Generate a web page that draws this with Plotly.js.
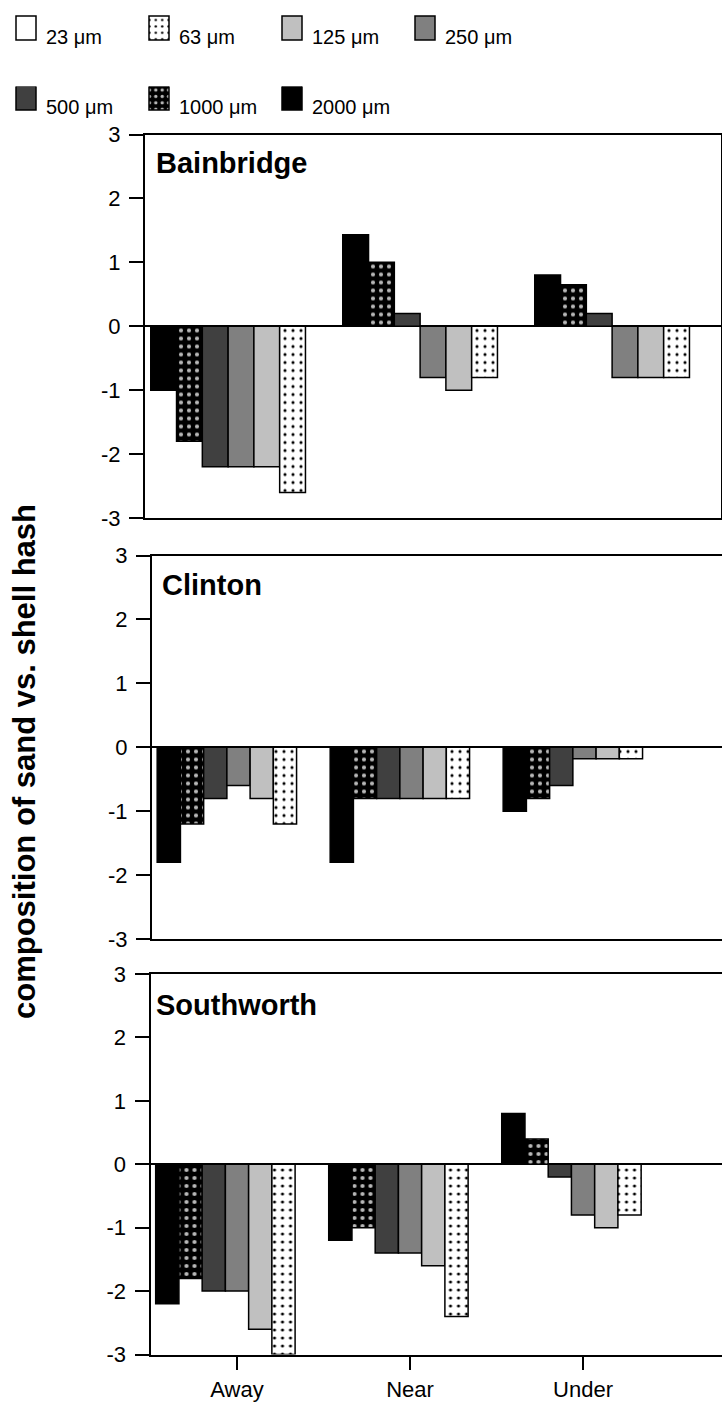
<!DOCTYPE html>
<html><head><meta charset="utf-8">
<script src="https://cdn.plot.ly/plotly-3.0.1.min.js"></script>
<style>html,body{margin:0;padding:0;background:#fff}</style>
</head><body><div id="chart" style="width:722px;height:1406px"></div>
<script>
// ---- data ----
const sites = ["Bainbridge", "Clinton", "Southworth"];
const categories = ["Away", "Near", "Under"];
// grain sizes in bar order within each group
const sizeLabels = ["2000 μm", "1000 μm", "500 μm", "250 μm", "125 μm", "63 μm", "23 μm"];
// rows follow sizeLabels, columns follow categories
const bainbridgeValues = [
  [-1.0, 1.43, 0.8],
  [-1.8, 1.0, 0.65],
  [-2.2, 0.2, 0.2],
  [-2.2, -0.8, -0.8],
  [-2.2, -1.0, -0.8],
  [-2.6, -0.8, -0.8],
  [0, 0, 0]
];
const clintonValues = [
  [-1.8, -1.8, -1.0],
  [-1.2, -0.8, -0.8],
  [-0.8, -0.8, -0.6],
  [-0.6, -0.8, -0.18],
  [-0.8, -0.8, -0.18],
  [-1.2, -0.8, -0.18],
  [0, 0, 0]
];
const southworthValues = [
  [-2.2, -1.2, 0.8],
  [-1.8, -1.0, 0.4],
  [-2.0, -1.4, -0.2],
  [-2.0, -1.4, -0.8],
  [-2.6, -1.6, -1.0],
  [-3.0, -2.4, -0.8],
  [0, 0, 0]
];
const yTickVals = [-3, -2, -1, 0, 1, 2, 3];
const yTickText = ["-3", "-2", "-1", "0", "1", "2", "3"];

// ---- styles ----
const fills = ["#000000", "#000000", "#404040", "#808080", "#c0c0c0", "#ffffff", "#ffffff"];
const patterns = [
  null,
  {shape: ".", bgcolor: "#000000", fgcolor: "#b8b8b8", size: 8, solidity: 0.22, fillmode: "replace"},
  null, null, null,
  {shape: ".", bgcolor: "#ffffff", fgcolor: "#000000", size: 8, solidity: 0.12, fillmode: "replace"},
  null
];
const W = 722, H = 1406;
const allValues = [bainbridgeValues, clintonValues, southworthValues];

const traces = [];
allValues.forEach((vals, p) => {
  const ax = p === 0 ? "" : String(p + 1);
  sizeLabels.forEach((lab, i) => {
    const marker = {color: fills[i], line: {color: "#000000", width: 1.5}};
    if (patterns[i]) marker.pattern = patterns[i];
    traces.push({
      type: "bar", x: categories, y: vals[i], name: lab,
      xaxis: "x" + ax, yaxis: "y" + ax,
      marker: marker, showlegend: p === 0,
      legend: i <= 2 ? "legend2" : "legend",
      hoverinfo: "skip"
    });
  });
});

const fx = px => px / W;
const fy = py => 1 - py / H;

function yAxis(top, bottom, mirror, anchor) {
  return {
    anchor: anchor,
    domain: [fy(bottom), fy(top)], range: [-3, 3],
    tickvals: yTickVals, ticktext: yTickText,
    ticks: "outside", ticklen: 14, tickwidth: 2, tickcolor: "#000",
    ticklabelstandoff: 4,
    showline: true, linewidth: 2, linecolor: "#000", mirror: mirror,
    showgrid: false, zeroline: true, zerolinewidth: 2, zerolinecolor: "#000",
    tickfont: {size: 22, color: "#000"}, fixedrange: true, automargin: false
  };
}
function xAxis(left, right, rmax, labels, anchor) {
  return {
    anchor: anchor,
    domain: [fx(left), fx(right)], range: [-0.5, rmax], type: "category",
    showline: true, linewidth: 2, linecolor: "#000", mirror: true,
    showgrid: false, zeroline: false,
    showticklabels: labels, ticks: labels ? "outside" : "", ticklen: 13, tickwidth: 2, tickcolor: "#000",
    ticklabelstandoff: 1,
    tickfont: {size: 22, color: "#000"}, fixedrange: true, automargin: false
  };
}

const legendBase = {
  orientation: "h", x: fx(6), xanchor: "left", yanchor: "middle",
  traceorder: "reversed", entrywidth: 88, entrywidthmode: "pixels",
  font: {size: 20, color: "#000"}, bgcolor: "rgba(0,0,0,0)"
};

const layout = {
  width: W, height: H, margin: {l: 0, r: 0, t: 0, b: 0},
  paper_bgcolor: "#ffffff", plot_bgcolor: "rgba(0,0,0,0)",
  font: {family: "Liberation Sans, Arial, sans-serif", color: "#000"},
  barmode: "group", bargap: 0.06, bargroupgap: 0,
  hovermode: false, showlegend: true,
  legend: Object.assign({}, legendBase, {y: fy(36)}),
  legend2: Object.assign({}, legendBase, {y: fy(106)}),
  xaxis: xAxis(145, 721, 2.5, false, "y"),
  yaxis: yAxis(134.5, 518, true, "x"),
  xaxis2: xAxis(152, 722, 2.795, false, "y2"),
  yaxis2: yAxis(555.5, 939, false, "x2"),
  xaxis3: xAxis(150.5, 722, 2.803, true, "y3"),
  yaxis3: yAxis(974, 1354.5, false, "x3"),
  annotations: [
    {text: "<b>" + sites[0] + "</b>", xref: "paper", yref: "paper", x: fx(154), y: fy(163), xanchor: "left", yanchor: "middle", showarrow: false, font: {size: 29}},
    {text: "<b>" + sites[1] + "</b>", xref: "paper", yref: "paper", x: fx(160), y: fy(585), xanchor: "left", yanchor: "middle", showarrow: false, font: {size: 29}},
    {text: "<b>" + sites[2] + "</b>", xref: "paper", yref: "paper", x: fx(154), y: fy(1005), xanchor: "left", yanchor: "middle", showarrow: false, font: {size: 29}},
    {text: "<b>composition of sand vs. shell hash</b>", xref: "paper", yref: "paper", x: fx(24), y: fy(762), xanchor: "center", yanchor: "middle", textangle: -90, showarrow: false, font: {size: 31}}
  ]
};

Plotly.newPlot("chart", traces, layout, {staticPlot: true, displayModeBar: false}).then(gd => {
  // the reference's legend boxes are bigger and sit a little above the text
  gd.querySelectorAll(".legend [clip-path]").forEach(el => el.removeAttribute("clip-path"));
  gd.querySelectorAll("g.legendpoints path").forEach(el => {
    el.setAttribute("d", "M10,4H-10V-20H10Z");
  });
});
</script>
</body></html>
